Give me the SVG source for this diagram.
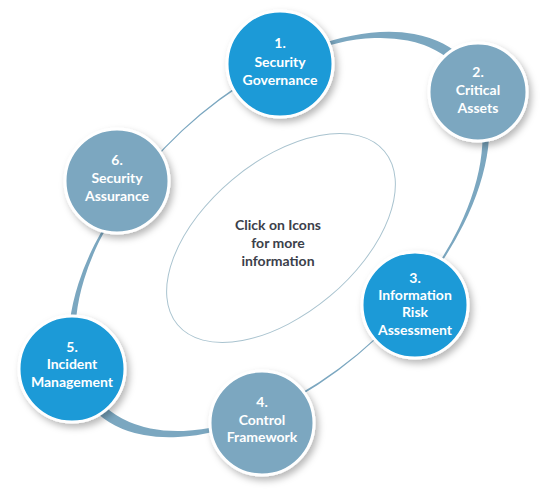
<svg xmlns="http://www.w3.org/2000/svg" width="557" height="500" viewBox="0 0 557 500">
  <defs>
    <filter id="sh" x="-30%" y="-30%" width="170%" height="170%">
      <feDropShadow dx="3" dy="4" stdDeviation="3.5" flood-color="#000" flood-opacity="0.28"/>
    </filter>
  </defs>
  <style>
    .ring { fill: #7ba7c0; fill-rule: evenodd; }
    .inner { fill: none; stroke: #a9c3cf; stroke-width: 1; }
    .blue { fill: #1b9ad7; stroke: #ffffff; stroke-width: 3; filter: url(#sh); }
    .gray { fill: #7ba7c0; stroke: #ffffff; stroke-width: 3; filter: url(#sh); }
    .lbl { font-family: Lato, "Open Sans", "Liberation Sans", sans-serif; font-weight: bold; font-size: 14px; fill: #ffffff; text-anchor: middle; }
    .ctr { font-family: Lato, "Open Sans", "Liberation Sans", sans-serif; font-weight: bold; font-size: 14px; fill: #3b404a; text-anchor: middle; }
  </style>
  <rect width="557" height="500" fill="#ffffff"/>
  <ellipse class="inner" cx="281" cy="238" rx="135" ry="76" transform="rotate(-40 281 238)"/>
  <g id="connectors">
    <path class="ring" transform="translate(279 234.5) rotate(-43)" d="M -255 0 A 255 142.6 0 1 0 255 0 A 255 142.6 0 1 0 -255 0 Z M -245 0 A 245 141.4 0 1 0 245 0 A 245 141.4 0 1 0 -245 0 Z"/>
  </g>
  <g id="center-text">
    <text class="ctr" x="278" y="230">Click on Icons</text>
    <text class="ctr" x="278" y="248">for more</text>
    <text class="ctr" x="278" y="266">information</text>
  </g>
  <g id="node1">
    <circle class="blue" cx="280" cy="64" r="53"/>
    <text class="lbl" x="280" y="48">1.</text>
    <text class="lbl" x="280" y="67">Security</text>
    <text class="lbl" x="280" y="85">Governance</text>
  </g>
  <g id="node2">
    <circle class="gray" cx="478" cy="92" r="49"/>
    <text class="lbl" x="478" y="77">2.</text>
    <text class="lbl" x="478" y="95">Critical</text>
    <text class="lbl" x="478" y="113">Assets</text>
  </g>
  <g id="node3">
    <circle class="blue" cx="415" cy="305" r="53"/>
    <text class="lbl" x="415" y="283">3.</text>
    <text class="lbl" x="415" y="300">Information</text>
    <text class="lbl" x="415" y="317">Risk</text>
    <text class="lbl" x="415" y="335">Assessment</text>
  </g>
  <g id="node4">
    <circle class="gray" cx="262" cy="423" r="52"/>
    <text class="lbl" x="262" y="407">4.</text>
    <text class="lbl" x="262" y="425">Control</text>
    <text class="lbl" x="262" y="442">Framework</text>
  </g>
  <g id="node5">
    <circle class="blue" cx="72" cy="369" r="53"/>
    <text class="lbl" x="72" y="352">5.</text>
    <text class="lbl" x="72" y="369">Incident</text>
    <text class="lbl" x="72" y="387">Management</text>
  </g>
  <g id="node6">
    <circle class="gray" cx="117" cy="181" r="52"/>
    <text class="lbl" x="117" y="165">6.</text>
    <text class="lbl" x="117" y="183">Security</text>
    <text class="lbl" x="117" y="201">Assurance</text>
  </g>
</svg>
